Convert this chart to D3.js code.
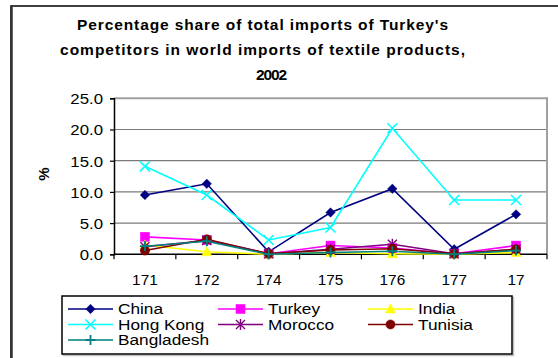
<!DOCTYPE html>
<html>
<head>
<meta charset="utf-8">
<script src="https://cdn.jsdelivr.net/npm/d3@7"></script>
<style>
  html, body { margin: 0; padding: 0; background: #fff; }
  svg { display: block; font-family: "Liberation Sans", Arial, sans-serif; }
</style>
</head>
<body>
<svg id="chart" width="558" height="358"></svg>
<script>
// Product codes on the category axis
const categories = ["171", "172", "174", "175", "176", "177", "17"];

// Share (%) of each competitor in world imports, per product code
const china      = [9.5, 11.3, 0.4, 6.7, 10.5, 0.8, 6.4];
const turkey     = [2.8, 2.3, 0.1, 1.4, 1.0, 0.1, 1.4];
const india      = [1.5, 0.4, 0.0, 0.3, 0.1, 0.0, 0.3];
const hongKong   = [14.1, 9.5, 2.3, 4.3, 20.2, 8.7, 8.7];
const morocco    = [1.2, 2.2, 0.1, 0.8, 1.6, 0.1, 0.8];
const tunisia    = [0.6, 2.4, 0.1, 0.7, 0.9, 0.1, 0.8];
const bangladesh = [1.3, 2.1, 0.0, 0.3, 0.5, 0.0, 0.6];

const yTicks = [0, 5, 10, 15, 20, 25];

const titleLines = [
  "Percentage share of total imports of Turkey's",
  "competitors in world imports of textile products,",
  "2002"
];

const series = [
  { name: "China",      values: china,      color: "#000080", marker: "diamond" },
  { name: "Turkey",     values: turkey,     color: "#FF00FF", marker: "square" },
  { name: "India",      values: india,      color: "#FFFF00", marker: "triangle" },
  { name: "Hong Kong",  values: hongKong,   color: "#00FFFF", marker: "cross" },
  { name: "Morocco",    values: morocco,    color: "#800080", marker: "star" },
  { name: "Tunisia",    values: tunisia,    color: "#800000", marker: "circle" },
  { name: "Bangladesh", values: bangladesh, color: "#008080", marker: "plus" }
];

const svg = d3.select("#chart");

// outer chart frame (runs past the right and bottom edges)
svg.append("rect").attr("x", 11).attr("y", 6).attr("width", 600).attr("height", 400)
  .attr("fill", "#fff").attr("stroke", "#000").attr("stroke-width", 1.5);
svg.append("line").attr("x1", 11.5).attr("x2", 11.5).attr("y1", 6).attr("y2", 358)
  .attr("stroke", "#333").attr("stroke-width", 2.5);

// title: letters are spread out to a fixed line width
const titleLayout = [
  { x: 77, y: 30, len: 371 },
  { x: 60, y: 55, len: 405 },
  { x: 256, y: 80, len: 31 }
];
titleLines.forEach((t, i) => {
  svg.append("text")
    .attr("x", titleLayout[i].x).attr("y", titleLayout[i].y)
    .attr("textLength", titleLayout[i].len).attr("lengthAdjust", "spacing")
    .attr("font-size", 15.5).attr("font-weight", "bold").attr("fill", "#000")
    .text(t);
});

// plot area
const plot = { left: 114, right: 547, top: 98.3, bottom: 254.3 };

const x = d3.scaleBand().domain(categories).range([plot.left, plot.right]).padding(0);
const y = d3.scaleLinear().domain([0, 25]).range([plot.bottom, plot.top]);
const cx = c => x(c) + x.bandwidth() / 2;

// horizontal gridlines
svg.append("g").selectAll("line").data(yTicks.filter(v => v > 0)).join("line")
  .attr("x1", plot.left).attr("x2", plot.right)
  .attr("y1", d => y(d)).attr("y2", d => y(d))
  .attr("stroke", d => d === 25 ? "#a0a0a0" : "#7a7a7a")
  .attr("stroke-width", d => d === 25 ? 2 : 1.2);

// right border of plot area
svg.append("line").attr("x1", plot.right).attr("x2", plot.right)
  .attr("y1", plot.top - 1).attr("y2", plot.bottom)
  .attr("stroke", "#a0a0a0").attr("stroke-width", 2);

// y axis
const yAxis = svg.append("g").attr("transform", `translate(${plot.left},0)`)
  .call(d3.axisLeft(y).tickValues(yTicks).tickSize(4).tickFormat(d3.format(".1f")));
yAxis.select(".domain").attr("stroke", "#000").attr("stroke-width", 1.5);
yAxis.selectAll(".tick line").attr("stroke", "#000").attr("stroke-width", 1.2);
yAxis.selectAll(".tick text")
  .attr("font-size", 15).attr("fill", "#000")
  .attr("font-family", "'Liberation Sans', Arial, sans-serif")
  .attr("x", -11 / 1.12).attr("dy", "0.36em")
  .attr("transform", "scale(1.12,1)")
  .attr("text-anchor", "end");

// x axis line and boundary ticks
svg.append("line").attr("x1", plot.left).attr("x2", plot.right)
  .attr("y1", plot.bottom).attr("y2", plot.bottom)
  .attr("stroke", "#000").attr("stroke-width", 1.5);
const boundaries = categories.map(c => x(c)).concat([plot.right]);
svg.append("g").selectAll("line").data(boundaries).join("line")
  .attr("x1", d => d).attr("x2", d => d)
  .attr("y1", plot.bottom).attr("y2", plot.bottom + 5)
  .attr("stroke", "#000").attr("stroke-width", 1.2);

// x tick labels
svg.append("g").selectAll("text").data(categories).join("text")
  .attr("transform", d => `translate(${cx(d)},285) scale(1.1,1)`)
  .attr("text-anchor", "middle").attr("font-size", 14).attr("fill", "#000")
  .text(d => d);

// y axis title
svg.append("text")
  .attr("transform", "translate(49,174) rotate(-90)")
  .attr("text-anchor", "middle").attr("font-size", 15).attr("font-weight", "bold")
  .text("%");

// marker drawing
function drawMarker(g, type, color, px, py) {
  const s = 4.7;
  if (type === "diamond") {
    g.append("path").attr("d", `M${px},${py - s}L${px + s},${py}L${px},${py + s}L${px - s},${py}Z`)
      .attr("fill", color).attr("stroke", color).attr("stroke-width", 0.5);
  } else if (type === "square") {
    g.append("rect").attr("x", px - 4.5).attr("y", py - 4.5).attr("width", 9).attr("height", 9)
      .attr("fill", color).attr("stroke", color).attr("stroke-width", 0.5);
  } else if (type === "triangle") {
    g.append("path").attr("d", `M${px},${py - 5}L${px + 5},${py + 4}L${px - 5},${py + 4}Z`)
      .attr("fill", color).attr("stroke", color).attr("stroke-width", 0.5);
  } else if (type === "circle") {
    g.append("circle").attr("cx", px).attr("cy", py).attr("r", 4.6)
      .attr("fill", color).attr("stroke", color).attr("stroke-width", 0.5);
  } else if (type === "cross") {
    g.append("path").attr("d", `M${px - 5},${py - 5}L${px + 5},${py + 5}M${px - 5},${py + 5}L${px + 5},${py - 5}`)
      .attr("stroke", color).attr("stroke-width", 1.6).attr("fill", "none");
  } else if (type === "star") {
    g.append("path").attr("d",
      `M${px - 4.5},${py - 4.5}L${px + 4.5},${py + 4.5}M${px - 4.5},${py + 4.5}L${px + 4.5},${py - 4.5}M${px},${py - 5.5}L${px},${py + 5.5}`)
      .attr("stroke", color).attr("stroke-width", 1.4).attr("fill", "none");
  } else if (type === "plus") {
    g.append("path").attr("d", `M${px - 5},${py}L${px + 5},${py}M${px},${py - 5}L${px},${py + 5}`)
      .attr("stroke", color).attr("stroke-width", 1.8).attr("fill", "none");
  }
}

// series lines and markers
const line = d3.line().x((d, i) => cx(categories[i])).y(d => y(d));
series.forEach(s => {
  const g = svg.append("g");
  g.append("path").datum(s.values).attr("d", line)
    .attr("fill", "none").attr("stroke", s.color).attr("stroke-width", 1.6);
  s.values.forEach((v, i) => drawMarker(g, s.marker, s.color, cx(categories[i]), y(v)));
});

// legend
const legend = svg.append("g");
legend.append("rect").attr("x", 63.5).attr("y", 297.5).attr("width", 450).attr("height", 58)
  .attr("fill", "none").attr("stroke", "#c0c0c0").attr("stroke-width", 1.5);
legend.append("rect").attr("x", 62).attr("y", 296).attr("width", 450).attr("height", 58)
  .attr("fill", "#fff").attr("stroke", "#000").attr("stroke-width", 1.5);

const colX = [68, 218, 368];
const rowY = [309, 324.5, 340];
series.forEach((s, i) => {
  const col = i % 3, row = Math.floor(i / 3);
  const lx = colX[col], ly = rowY[row];
  const g = legend.append("g");
  g.append("line").attr("x1", lx).attr("x2", lx + 45).attr("y1", ly).attr("y2", ly)
    .attr("stroke", s.color).attr("stroke-width", 1.6);
  drawMarker(g, s.marker, s.color, lx + 22.5, ly);
  g.append("text")
    .attr("transform", `translate(${lx + 50},${ly + 5.3}) scale(1.15,1)`)
    .attr("font-size", 15).attr("fill", "#000")
    .text(s.name);
});
</script>
</body>
</html>
